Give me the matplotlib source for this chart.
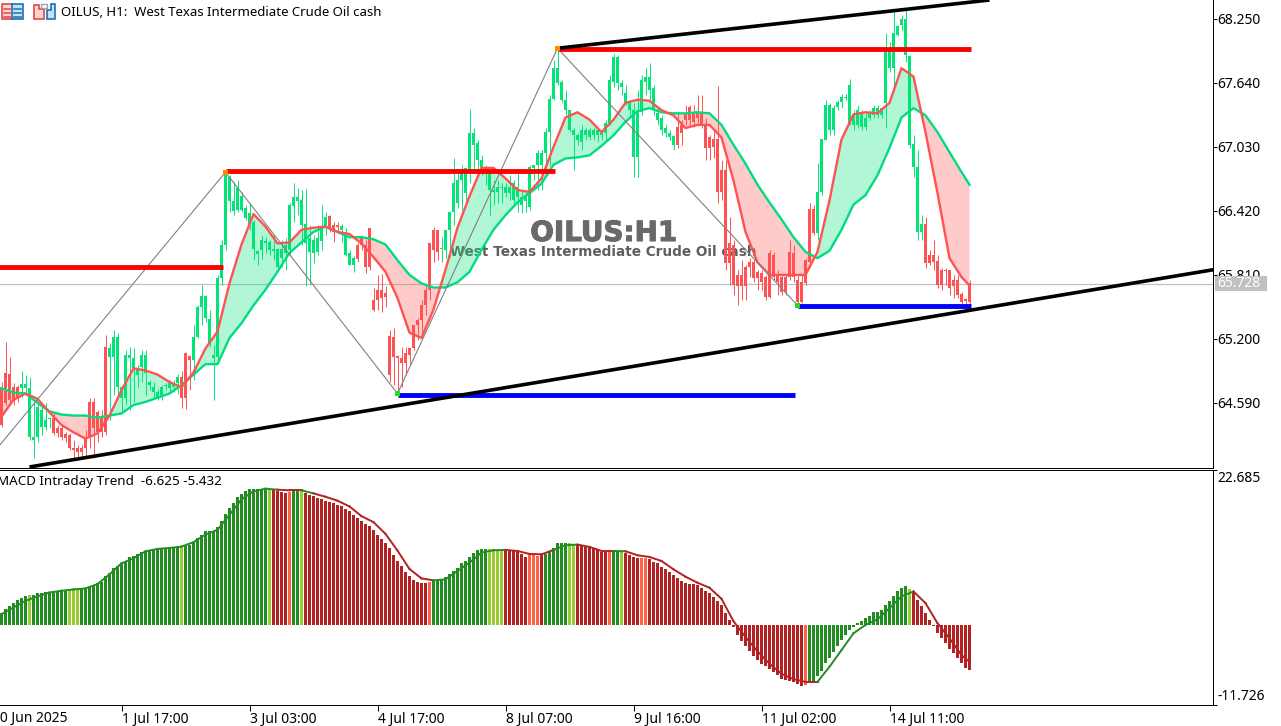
import matplotlib
matplotlib.use('Agg')
import matplotlib.pyplot as plt
import matplotlib.patheffects as pe
from matplotlib.patches import Rectangle, Polygon

# candles, one row = 10 hourly bars, colour comes from the trend runs and not from open/close
highs = [
    64.79,65.17,65.03,64.78,64.76,64.89,64.86,64.84,64.59,64.59,
    64.57,64.59,64.46,64.50,64.38,64.38,64.31,64.30,64.24,64.19,
    64.19,64.33,64.64,64.64,64.52,64.52,65.24,65.16,65.29,65.26,
    64.76,65.09,65.12,65.11,64.95,65.09,65.09,64.81,64.79,64.72,
    64.76,64.78,64.81,64.81,64.87,64.89,65.08,65.05,65.33,65.52,
    65.71,65.62,65.48,65.14,65.81,66.14,66.79,66.76,66.70,66.71,
    66.60,66.48,66.50,66.33,66.05,66.19,66.17,66.14,66.19,66.07,
    66.14,66.16,66.50,66.69,66.64,66.62,66.63,66.29,66.19,66.29,
    66.48,66.41,66.38,66.31,66.31,66.30,66.26,66.05,65.99,66.11,
    66.19,66.14,66.26,65.69,65.81,65.82,65.70,65.29,65.30,65.05,
    65.12,65.12,65.11,65.33,65.40,65.57,65.71,66.11,66.27,66.24,
    66.17,66.24,66.41,66.92,66.81,66.86,66.83,67.39,67.21,67.10,
    66.95,66.86,66.83,66.71,66.71,66.69,66.69,66.76,66.71,66.78,
    66.62,66.62,66.86,66.86,67.00,67.00,67.21,67.52,67.86,67.95,
    67.67,67.57,67.38,67.21,67.16,67.24,67.21,67.21,67.21,67.21,
    67.19,67.29,67.72,67.92,67.91,67.67,67.62,67.48,67.45,67.57,
    67.72,67.78,67.83,67.62,67.40,67.33,67.24,67.19,67.14,67.35,
    67.29,67.43,67.43,67.43,67.52,67.52,67.31,67.14,67.19,67.61,
    66.91,66.91,66.36,66.14,65.86,65.95,65.90,65.97,65.95,65.86,
    65.86,65.81,66.05,66.03,65.86,65.81,65.81,66.14,66.10,65.81,
    65.81,65.97,66.50,66.48,66.88,67.11,67.48,67.45,67.43,67.48,
    67.53,67.53,67.68,67.38,67.43,67.38,67.36,67.38,67.43,67.43,
    67.40,68.12,68.03,68.33,68.19,68.29,68.33,67.91,67.14,67.00,
    66.38,66.36,66.05,66.14,66.00,65.88,65.88,65.86,65.81,65.81,65.65,65.59,65.76,
]
body_top = [
    64.74,64.88,64.87,64.74,64.74,64.77,64.77,64.73,64.27,64.55,
    64.52,64.43,64.45,64.45,64.35,64.35,64.29,64.28,64.16,64.16,
    64.16,64.26,64.60,64.60,64.50,64.46,65.12,65.11,65.22,65.22,
    64.74,65.05,65.05,65.02,64.92,65.05,65.05,64.79,64.74,64.69,
    64.74,64.76,64.78,64.78,64.84,64.84,65.07,65.04,65.22,65.50,
    65.61,65.61,65.39,65.05,65.78,66.10,66.78,66.74,66.51,66.64,
    66.56,66.45,66.40,66.31,66.04,66.14,66.13,66.12,66.06,66.06,
    66.06,66.10,66.48,66.55,66.55,66.52,66.30,66.16,66.14,66.16,
    66.27,66.36,66.37,66.29,66.29,66.28,66.22,66.02,65.97,66.10,
    66.16,66.10,66.26,65.57,65.67,65.67,65.64,65.23,65.22,65.04,
    65.02,65.07,65.11,65.33,65.38,65.52,65.67,66.11,66.24,66.24,
    66.07,66.24,66.41,66.69,66.71,66.78,66.83,67.16,67.16,67.07,
    66.91,66.83,66.78,66.62,66.65,66.65,66.65,66.65,66.69,66.65,
    66.55,66.57,66.84,66.86,66.97,66.97,67.17,67.49,67.78,67.78,
    67.65,67.48,67.38,67.19,67.14,67.19,67.19,67.19,67.19,67.19,
    67.16,67.26,67.67,67.89,67.89,67.64,67.54,67.45,67.38,67.36,
    67.67,67.70,67.70,67.59,67.35,67.31,67.21,67.16,67.13,67.22,
    67.24,67.35,67.41,67.35,67.35,67.35,67.24,67.12,67.11,67.11,
    66.81,66.81,66.11,66.10,65.81,65.81,65.89,65.93,65.93,65.84,
    65.83,65.79,66.02,66.00,65.81,65.79,65.79,66.03,66.02,65.76,
    65.74,65.95,66.44,66.44,66.60,67.11,67.43,67.43,67.40,67.46,
    67.51,67.51,67.62,67.33,67.38,67.36,67.31,67.35,67.40,67.40,
    67.40,67.97,67.93,68.12,68.18,68.25,68.25,67.90,67.06,66.84,
    66.30,66.30,66.00,66.00,65.94,65.86,65.86,65.86,65.76,65.76,65.63,65.58,65.73,
]
body_bot = [
    64.38,64.59,64.62,64.62,64.64,64.73,64.73,64.27,64.24,64.27,
    64.36,64.36,64.44,64.30,64.30,64.27,64.26,64.16,64.14,64.12,
    64.12,64.16,64.27,64.35,64.31,64.31,64.31,65.03,65.03,64.74,
    64.64,64.64,65.02,64.92,64.86,64.93,64.88,64.76,64.69,64.65,
    64.65,64.75,64.73,64.74,64.78,64.64,64.64,65.00,65.00,65.22,
    65.50,65.40,65.16,65.02,65.03,65.78,66.10,66.51,66.42,66.43,
    66.43,66.35,66.30,66.06,66.01,66.05,66.11,66.05,66.04,65.89,
    65.97,66.02,66.05,66.47,66.51,66.29,66.11,66.03,66.02,66.03,
    66.13,66.27,66.25,66.22,66.27,66.24,66.00,65.90,65.90,65.96,
    66.10,65.89,65.89,65.48,65.57,65.59,65.60,64.86,65.03,65.02,
    64.97,64.97,65.05,65.11,65.33,65.38,65.52,65.67,66.05,66.03,
    66.06,66.05,66.24,66.41,66.50,66.71,66.59,66.78,67.05,66.91,
    66.81,66.78,66.62,66.60,66.60,66.64,66.59,66.59,66.52,66.55,
    66.48,66.51,66.46,66.83,66.86,66.86,66.97,67.17,67.49,67.64,
    67.48,67.38,67.19,67.14,67.10,67.08,67.14,67.12,67.14,67.14,
    67.14,67.16,67.26,67.65,67.64,67.60,67.45,67.38,66.93,66.93,
    67.36,67.65,67.57,67.38,67.29,67.19,67.16,67.12,67.05,67.05,
    67.16,67.29,67.29,67.27,67.31,67.24,67.02,67.02,67.03,66.60,
    66.60,65.92,65.92,65.71,65.70,65.70,65.70,65.89,65.78,65.78,
    65.74,65.60,65.60,65.79,65.74,65.65,65.65,65.79,65.79,65.55,
    65.55,65.73,65.93,66.21,66.21,66.60,67.10,67.19,67.19,67.41,
    67.46,67.50,67.26,67.24,67.24,67.22,67.22,67.31,67.33,67.33,
    67.33,67.45,67.78,67.78,68.10,68.19,67.91,67.05,66.84,66.22,
    66.22,65.92,65.92,65.93,65.71,65.71,65.85,65.69,65.70,65.62,65.55,65.56,65.55,
]
lows = [
    64.36,64.57,64.57,64.57,64.60,64.65,64.68,64.24,64.07,64.22,
    64.28,64.33,64.35,64.28,64.27,64.24,64.22,64.14,64.07,64.07,
    64.07,64.07,64.16,64.07,64.22,64.27,64.28,64.43,64.67,64.67,
    64.49,64.57,64.52,64.60,64.74,64.79,64.67,64.71,64.64,64.62,
    64.62,64.71,64.69,64.69,64.68,64.54,64.53,64.71,64.81,65.21,
    65.33,65.36,65.12,64.62,65.00,65.71,66.05,66.41,66.38,66.41,
    66.41,66.33,66.24,65.95,65.90,65.96,66.02,66.00,65.95,65.86,
    65.89,65.86,66.00,66.31,66.38,66.10,65.70,65.71,65.92,66.00,
    66.05,66.19,66.22,66.12,66.21,66.12,65.99,65.90,65.84,65.93,
    66.05,65.83,65.86,65.47,65.48,65.46,65.50,64.79,64.76,64.68,
    64.74,64.86,64.95,65.09,65.19,65.24,65.43,65.57,65.93,65.95,
    65.93,65.97,65.98,66.29,66.45,66.43,66.48,66.69,66.81,66.76,
    66.76,66.67,66.38,66.48,66.50,66.50,66.55,66.52,66.48,66.41,
    66.40,66.41,66.43,66.71,66.62,66.62,66.74,66.86,67.48,67.62,
    67.46,67.33,67.17,66.81,67.05,67.00,67.10,67.10,67.10,67.08,
    67.10,67.10,67.24,67.60,67.57,67.52,67.43,67.33,66.74,66.74,
    67.33,67.52,67.48,67.33,67.24,67.14,67.12,67.10,67.00,67.02,
    67.05,67.24,67.24,67.22,67.26,67.21,66.91,66.91,66.92,66.50,
    66.52,65.86,65.71,65.62,65.52,65.57,65.57,65.79,65.74,65.67,
    65.67,65.57,65.59,65.76,65.62,65.62,65.62,65.76,65.74,65.52,
    65.54,65.71,65.90,66.19,66.14,66.57,67.10,67.14,67.14,67.38,
    67.40,67.48,67.24,67.19,67.21,67.19,67.19,67.29,67.31,67.31,
    67.31,67.21,67.74,67.60,68.09,68.14,67.84,67.02,66.74,66.14,
    66.14,65.88,65.90,65.86,65.69,65.67,65.71,65.62,65.59,65.59,65.53,65.53,65.53,
]
# first and last bar of every green stretch, everything else is red
up_runs = [(5, 12), (27, 44), (48, 81), (85, 88), (110, 168), (204, 230)]

# the two moving averages, read at every third bar
ma_idx = list(range(0, 241, 3)) + [242]
fast_ma = [
    64.46,64.62,64.68,64.63,64.50,64.38,64.31,64.25,64.30,64.47,
    64.71,64.92,64.90,64.86,64.79,64.74,64.88,65.11,65.27,65.73,
    66.10,66.39,66.27,66.11,66.12,66.24,66.26,66.27,66.22,66.20,
    66.11,65.98,65.84,65.59,65.26,65.21,65.48,65.86,66.26,66.56,
    66.83,66.83,66.73,66.62,66.60,66.73,67.03,67.31,67.36,67.29,
    67.17,67.29,67.45,67.48,67.47,67.38,67.33,67.21,67.24,67.24,
    67.12,66.71,66.22,65.93,65.81,65.81,65.81,65.81,66.03,66.52,
    67.10,67.34,67.36,67.35,67.45,67.78,67.70,67.17,66.59,65.97,
    65.79,65.71,
]
slow_ma = [
    64.73,64.69,64.68,64.59,64.51,64.48,64.47,64.47,64.45,64.47,
    64.49,64.57,64.60,64.64,64.68,64.76,64.86,64.96,64.96,65.21,
    65.35,65.52,65.67,65.84,66.02,66.12,66.22,66.27,66.22,66.17,
    66.17,66.15,66.10,65.95,65.81,65.73,65.69,65.69,65.74,65.84,
    66.05,66.24,66.38,66.50,66.59,66.68,66.86,66.92,66.93,66.95,
    67.04,67.14,67.27,67.37,67.40,67.36,67.35,67.35,67.36,67.35,
    67.24,67.05,66.87,66.67,66.50,66.34,66.17,66.03,65.97,66.04,
    66.24,66.48,66.57,66.76,67.02,67.31,67.40,67.33,67.17,66.98,
    66.79,66.67,
]

# zigzag and the levels drawn on it
zigzag_idx = [-0.4, 56, 99, 139, 199]
zigzag_px = [64.19, 66.79, 64.68, 67.97, 65.52]
level_from = [-1, 56, 99, 139, 199]
level_to = [55, 138, 198, 242, 242]
level_px = [65.89, 66.80, 64.67, 67.96, 65.51]
level_col = ['#FF0000', '#FF0000', '#0000FF', '#FF0000', '#0000FF']
trend_low_x = [7, 303]
trend_low_y = [63.98, 65.86]
trend_high_x = [139, 247]
trend_high_y = [67.97, 68.43]
last_price = 65.728

price_ticks = [68.25, 67.64, 67.03, 66.42, 65.81, 65.20, 64.59]
price_labels = ['68.250', '67.640', '67.030', '66.420', '65.810', '65.200', '64.590']
time_ticks = [30, 62, 94, 126, 158, 190, 222]
time_labels = ['1 Jul 17:00', '3 Jul 03:00', '4 Jul 17:00', '8 Jul 07:00',
               '9 Jul 16:00', '11 Jul 02:00', '14 Jul 11:00']
first_time_label = '30 Jun 2025'

# MACD histogram, one value per bar
hist = [
    1.81,2.40,2.79,3.14,3.63,3.87,4.26,4.36,4.36,4.66,
    4.66,4.75,4.85,4.90,5.00,5.10,5.15,5.15,5.15,5.25,
    5.25,5.25,5.64,5.88,6.13,6.32,7.11,7.60,8.28,8.68,
    8.92,9.41,9.90,10.15,10.39,10.74,10.88,10.98,11.13,11.13,
    11.13,11.23,11.32,11.37,11.47,11.37,11.52,11.72,12.21,12.70,
    13.19,13.73,13.73,13.73,14.31,15.15,16.27,17.11,17.84,18.73,
    19.22,19.61,19.95,19.95,19.95,19.95,20.05,19.71,19.80,19.66,
    19.46,19.36,19.46,19.71,19.85,19.71,19.36,19.07,18.87,18.58,
    18.38,18.14,17.99,17.84,17.60,17.40,17.01,16.62,16.13,15.64,
    15.29,14.80,14.46,13.97,13.19,12.60,12.01,11.23,10.25,9.31,
    8.58,7.70,7.11,6.62,6.32,6.13,6.13,6.23,6.52,6.52,
    6.76,7.06,7.40,7.89,8.38,9.02,9.36,10.00,10.59,10.98,
    11.08,11.18,11.18,11.08,10.98,10.93,10.93,10.93,10.83,10.69,
    10.44,10.00,10.20,10.29,10.10,10.20,10.34,10.83,11.32,11.96,
    12.06,11.96,12.06,11.81,11.67,11.57,11.47,11.37,11.18,10.98,
    10.74,10.69,10.69,10.69,10.69,10.69,10.59,10.20,9.95,9.75,
    9.75,9.75,9.61,9.26,9.02,8.48,8.14,7.75,7.25,6.81,
    6.42,6.18,5.93,5.93,5.83,5.44,4.95,4.71,4.12,3.48,
    2.99,1.76,0.78,-0.25,-1.42,-2.40,-3.14,-3.87,-4.51,-5.20,
    -5.69,-6.08,-6.47,-6.96,-7.30,-7.89,-8.09,-8.19,-8.38,-8.58,
    -8.92,-8.77,-8.33,-8.33,-7.50,-6.76,-5.64,-4.80,-3.92,-3.09,
    -2.21,-1.47,-0.74,-0.25,0.25,0.59,1.08,1.37,1.86,1.86,
    2.21,2.94,3.43,4.17,4.90,5.39,5.74,5.29,4.75,3.68,
    2.79,1.81,0.74,-0.15,-1.23,-1.96,-2.70,-3.58,-4.17,-4.90,
    -5.64,-6.27,-6.63,
]
hist_runs = [
    (0, 6, 'g'), (7, 7, 'y'), (8, 16, 'g'), (17, 19, 'y'), (20, 44, 'g'), (45, 45, 'y'),
    (46, 66, 'g'), (67, 67, 'y'), (68, 71, 'r'), (72, 72, 'o'), (73, 74, 'g'), (75, 75, 'y'),
    (76, 106, 'r'), (107, 107, 'o'), (108, 121, 'g'), (122, 125, 'y'), (126, 131, 'r'),
    (132, 134, 'o'), (135, 135, 'r'), (136, 141, 'g'), (142, 143, 'y'), (144, 151, 'r'),
    (152, 152, 'o'), (153, 154, 'g'), (155, 155, 'y'), (156, 159, 'r'), (160, 161, 'o'),
    (162, 200, 'r'), (201, 201, 'o'), (202, 226, 'g'), (227, 227, 'y'), (228, 242, 'r'),
]
hist_col = {'g': '#228B22', 'y': '#9ACD32', 'r': '#B22222', 'o': '#FF6347'}
# signal line, same bars as the moving averages
signal = [
    1.57,2.55,3.53,4.17,4.75,5.00,5.20,5.34,5.98,7.40,
    9.02,9.75,10.78,11.13,11.27,11.47,12.11,13.24,13.92,16.13,
    18.38,19.56,19.95,19.80,19.71,19.71,19.26,18.77,18.19,17.35,
    15.93,15.05,13.33,10.88,8.19,6.81,6.52,6.67,7.89,9.12,
    10.59,10.93,10.98,10.83,10.39,10.34,10.98,11.67,11.76,11.42,
    10.83,10.83,10.78,10.20,9.95,9.36,8.14,7.06,6.18,5.44,
    3.82,0.54,-1.76,-3.87,-5.69,-7.16,-7.94,-8.33,-8.33,-6.13,
    -3.68,-1.23,0.00,0.83,2.45,4.17,4.90,3.19,0.25,-1.96,
    -4.41,-5.43,
]

GREEN = '#00E676'
RED = '#FF5252'
W, H = 1281, 726
plt.rcParams['font.family'] = ['Noto Sans', 'DejaVu Sans']
TICK = 10

fig = plt.figure(figsize=(W / 100, H / 100), dpi=100)
ax = fig.add_axes([0, 1 - 467.5 / H, 1213 / W, 467.5 / H])
ax2 = fig.add_axes([0, 1 - 705 / H, 1213 / W, (705 - 470) / H])

is_up = [False] * len(highs)
for a, b in up_runs:
    for i in range(a, b + 1):
        is_up[i] = True

# the watermark sits under everything else
ax.text(0.4975, 1 - 233 / 467.5, 'OILUS:H1', transform=ax.transAxes, family='DejaVu Sans',
        weight='bold', fontsize=20, color='#696969', ha='center', va='center', zorder=1,
        path_effects=[pe.withStroke(linewidth=0.8, foreground='#696969')])
ax.text(0.4975, 1 - 252 / 467.5, 'West Texas Intermediate Crude Oil cash', transform=ax.transAxes,
        family='DejaVu Sans', weight='bold', fontsize=9.85, color='#5E5E5E', ha='center', va='center',
        zorder=1)

ax.axhline(last_price, color='#C0C0C0', lw=0.9, zorder=1.5)

ax.fill_between(ma_idx, fast_ma, slow_ma, where=[f >= s for f, s in zip(fast_ma, slow_ma)],
                color=GREEN, alpha=0.3, lw=0, interpolate=True, zorder=2)
ax.fill_between(ma_idx, fast_ma, slow_ma, where=[f <= s for f, s in zip(fast_ma, slow_ma)],
                color=RED, alpha=0.3, lw=0, interpolate=True, zorder=2)

for i in range(len(highs)):
    col = GREEN if is_up[i] else RED
    ax.vlines(i, lows[i], highs[i], color=col, lw=0.7, zorder=3)
    ax.bar(i, body_top[i] - body_bot[i], bottom=body_bot[i], width=0.7, color=col, lw=0, zorder=3)

ax.plot(ma_idx, slow_ma, color='#00DC82', lw=1.7, zorder=4)
ax.plot(ma_idx, fast_ma, color=RED, lw=1.7, zorder=4.1)

ax.plot(zigzag_idx, zigzag_px, color='#808080', lw=0.8, zorder=5)
for x0, x1, y, c in zip(level_from, level_to, level_px, level_col):
    ax.plot([x0, x1 + 0.4], [y, y], color=c, lw=3.5, solid_capstyle='butt', zorder=5.5)
ax.plot(trend_low_x, trend_low_y, color='black', lw=2.6, solid_capstyle='butt', zorder=6)
ax.plot(trend_high_x, trend_high_y, color='black', lw=2.6, solid_capstyle='butt', zorder=6)
ax.scatter(zigzag_idx[1:], zigzag_px[1:], marker='s', s=14, lw=0,
           c=['#FF8C00', '#22DD22', '#FF8C00', '#22DD22'], zorder=7)

ax.yaxis.tick_right()
ax.set_yticks(price_ticks)
ax.set_yticklabels(price_labels, fontsize=TICK)
ax.tick_params(axis='y', length=3, width=0.72, pad=0, color='black')
ax.set_xticks([])
ax.set_xlim(-0.375, 302.875)
ax.set_ylim(63.975, 68.43)

for i, h in enumerate(hist):
    kind = [r[2] for r in hist_runs if r[0] <= i <= r[1]][0]
    ax2.bar(i, h, width=0.7, color=hist_col[kind], lw=0, zorder=2)
for a in range(len(ma_idx) - 1):
    kind = [r[2] for r in hist_runs if r[0] <= ma_idx[a] <= r[1]][0]
    col = '#228B22' if kind in 'gy' else '#B22222'
    ax2.plot(ma_idx[a:a + 2], signal[a:a + 2], color=col, lw=1.4, zorder=3)

ax2.set_xticks(time_ticks)
ax2.set_xticklabels(time_labels, fontsize=TICK, ha='left')
ax2.yaxis.tick_right()
ax2.set_yticks([22.685, -11.726])
ax2.set_yticklabels([])
ax2.tick_params(axis='y', length=3, width=0.72)
ax2.tick_params(axis='x', length=4, width=0.72, pad=1)
ax2.set_xlim(-0.375, 302.875)
ax2.set_ylim(-11.726, 22.685)
fig.text(1217 / W, 1 - 479 / H, '22.685', fontsize=TICK, va='center')
fig.text(1217 / W, 1 - 697 / H, '-11.726', fontsize=TICK, va='center')
fig.text(-3 / W, 1 - 482 / H, 'MACD Intraday Trend  -6.625 -5.432', fontsize=9.7, va='center')
fig.text(-8 / W, 1 - 718 / H, first_time_label, fontsize=TICK, va='center')

for a_ in (ax, ax2):
    for side, sp in a_.spines.items():
        sp.set_linewidth(0.72)
        sp.set_visible(side in ('right', 'bottom') or a_ is ax2)
    a_.spines['left'].set_visible(False)

# overlay in pixels for the toolbar icons and the price box
ov = fig.add_axes([0, 0, 1, 1], facecolor='none')
ov.set_xlim(0, W)
ov.set_ylim(H, 0)
ov.axis('off')
ov.add_patch(Rectangle((2, 4), 11, 15, fc='#FFD5D0', ec='#E04848', lw=1.2))
ov.add_patch(Rectangle((12, 4), 11, 15, fc='#BFE3FA', ec='#1F6FB2', lw=1.2))
for y in (9, 13, 17):
    ov.plot([4, 11], [y, y], color='#E04848', lw=1.1)
    ov.plot([14, 21], [y, y], color='#1F6FB2', lw=1.1)
ov.add_patch(Polygon([(34, 5), (39, 5), (39, 9), (44, 9), (44, 19), (34, 19)], fc='#FFD5D0', ec='#E04848', lw=1.2))
ov.add_patch(Polygon([(47, 10), (51, 10), (51, 4), (55, 4), (55, 19), (47, 19)], fc='#BFE3FA', ec='#1F6FB2', lw=1.2))
ov.add_patch(Rectangle((41, 4), 6, 4, fc='white', ec='#A0A0A0', lw=1.0))
ov.text(61, 12, 'OILUS, H1:  West Texas Intermediate Crude Oil cash', fontsize=9.5, va='center')
ov.add_patch(Rectangle((1215, 276), 52, 15, fc='#C0C0C0', ec='none'))
ov.text(1217, 283.5, '65.728', fontsize=TICK, color='white', va='center')

fig.savefig('out.png', dpi=100)
